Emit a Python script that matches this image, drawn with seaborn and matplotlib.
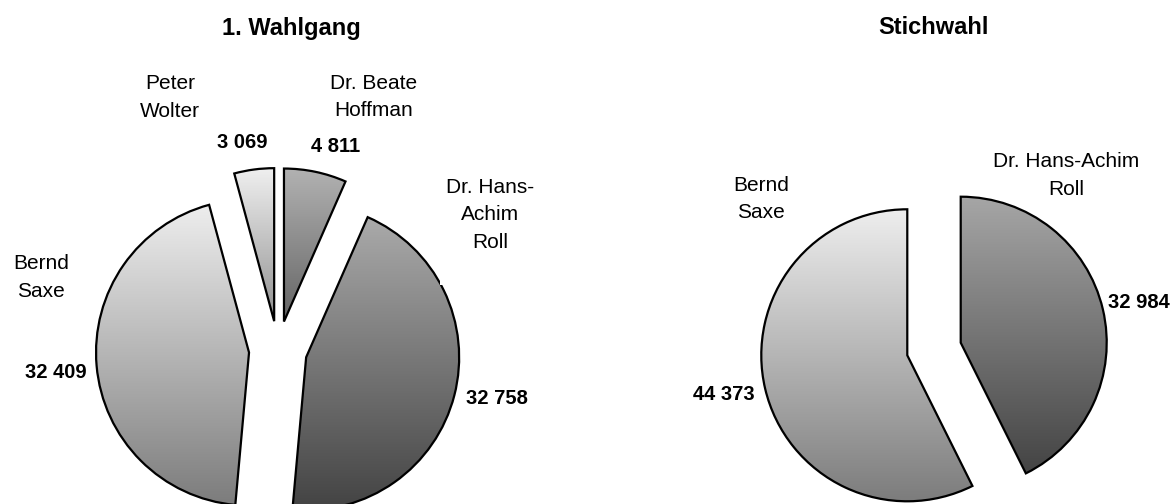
import numpy as np
import matplotlib
matplotlib.use("Agg")
import matplotlib.pyplot as plt
from matplotlib.colors import LinearSegmentedColormap
from matplotlib.patches import Rectangle
import seaborn as sns

# ---------------- data ----------------
round1_candidates = ["Dr. Beate\nHoffman", "Dr. Hans-\nAchim\nRoll", "Bernd\nSaxe", "Peter\nWolter"]
round1_votes = [4811, 32758, 32409, 3069]
round2_candidates = ["Dr. Hans-Achim\nRoll", "Bernd\nSaxe"]
round2_votes = [32984, 44373]
titles = ["1. Wahlgang", "Stichwahl"]

# ---------------- style ----------------
sns.set_theme(style="white")
plt.rcParams["font.family"] = ["Liberation Sans", "DejaVu Sans"]

W, H = 1173, 504
fig = plt.figure(figsize=(W / 100, H / 100), dpi=100)

# gradients (top colour, bottom colour) per wedge
grad1 = [("#b2b2b2", "#646464"), ("#aaaaaa", "#424242"), ("#eeeeee", "#7c7c7c"), ("#f0f0f0", "#909090")]
grad2 = [("#a6a6a6", "#444444"), ("#eeeeee", "#7c7c7c")]

L = 1.8


def make_axes(cx, cy, r):
    left = (cx - L * r) / W
    bottom = (H - cy - L * r) / H
    return fig.add_axes([left, bottom, 2 * L * r / W, 2 * L * r / H])


def draw_pie(ax, values, grads, explode):
    wedges, _ = ax.pie(values, startangle=90, counterclock=False, explode=[explode] * len(values),
                       wedgeprops=dict(facecolor="none", edgecolor="black", linewidth=1.6, zorder=3))
    for w, (c_top, c_bot) in zip(wedges, grads):
        verts = w.get_path().vertices
        x0, x1 = verts[:, 0].min(), verts[:, 0].max()
        y0, y1 = verts[:, 1].min(), verts[:, 1].max()
        cmap = LinearSegmentedColormap.from_list("g", [c_bot, c_top])
        grad = np.linspace(0, 1, 256).reshape(-1, 1)
        im = ax.imshow(grad, extent=[x0, x1, y0, y1], origin="lower", aspect="auto",
                       cmap=cmap, vmin=0, vmax=1, zorder=2, interpolation="bilinear")
        im.set_clip_path(w)
    ax.set_aspect("auto")
    ax.set_xlim(-L, L)
    ax.set_ylim(-L, L)
    ax.axis("off")


ax1 = make_axes(278, 350, 153)
draw_pie(ax1, round1_votes, grad1, 0.19)
ax2 = make_axes(934, 349, 146)
draw_pie(ax2, round2_votes, grad2, 0.188)


def ftext(x, y, s, **kw):
    fig.text(x / W, 1 - y / H, s, ha="center", va="center", **kw)


def fmt(v):
    return f"{v:,}".replace(",", " ")


# titles
ftext(291, 28, titles[0], fontsize=17, fontweight="bold", color="black")
ftext(933, 28, titles[1], fontsize=17, fontweight="bold", color="black")

# white box that hides part of the pie edge under the Roll label
fig.add_artist(Rectangle((440 / W, 1 - 285 / H), 94 / W, 110 / H, transform=fig.transFigure,
                         facecolor="white", edgecolor="none", zorder=5))

lab_kw = dict(fontsize=15, color="black", linespacing=1.55, zorder=6)
val_kw = dict(fontsize=14.5, fontweight="bold", color="black", zorder=6)

# round 1 labels: Hoffman, Roll, Saxe, Wolter
label_pos1 = [(374, 97), (490, 215), (41, 277.5), (170, 97.5)]
value_pos1 = [(336, 146), (496.5, 398), (55.5, 373), (242.5, 143)]
for name, v, lp, vp in zip(round1_candidates, round1_votes, label_pos1, value_pos1):
    ftext(*lp, name, **lab_kw)
    ftext(*vp, fmt(v), **val_kw)

# round 2 labels: Roll, Saxe
label_pos2 = [(1066, 175.5), (761, 199)]
value_pos2 = [(1139, 302), (724, 395)]
for name, v, lp, vp in zip(round2_candidates, round2_votes, label_pos2, value_pos2):
    ftext(*lp, name, **lab_kw)
    ftext(*vp, fmt(v), **val_kw)

fig.savefig("out.png", dpi=100, facecolor="white")
